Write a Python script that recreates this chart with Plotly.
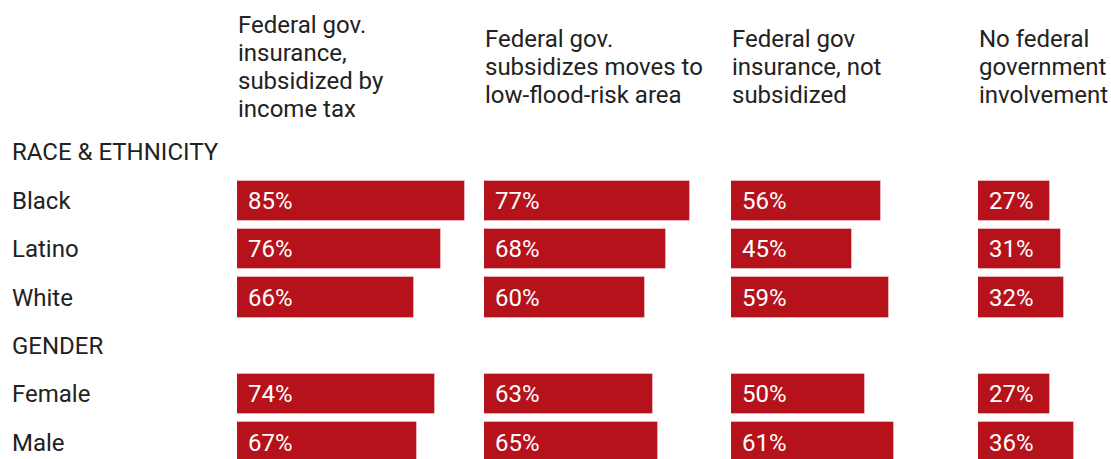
import plotly.graph_objects as go

# Survey: support for flood-policy options, by group (percent)
columns = [
    ["Federal gov.", "insurance,", "subsidized by", "income tax"],
    ["Federal gov.", "subsidizes moves to", "low-flood-risk area"],
    ["Federal gov", "insurance, not", "subsidized"],
    ["No federal", "government", "involvement"],
]
row_labels = ["RACE & ETHNICITY", "Black", "Latino", "White", "GENDER", "Female", "Male"]
group_rows = [1, 2, 3, 5, 6]  # rows that carry bars (headers at 0 and 4)

subsidized_tax = [85, 76, 66, 74, 67]
subsidized_moves = [77, 68, 60, 63, 65]
insurance_unsubsidized = [56, 45, 59, 50, 61]
no_involvement = [27, 31, 32, 27, 36]
series = [subsidized_tax, subsidized_moves, insurance_unsubsidized, no_involvement]

W, H = 1111, 459
BAR = "#b5121b"
INK = "#222222"
FONT = "Roboto"
TEXT_SIZE = 24
VALUE_SIZE = 24

col_start_px = [237, 484, 731, 978]
px_per_pct = 2.68
row0_px, row_pitch = 152.45, 48.35
head_mid_px, head_pitch = 67, 27.9

fig = go.Figure()
annotations = []

for k, vals in enumerate(series):
    s = col_start_px[k]
    e = min(s + 240, W)
    ax = "x" if k == 0 else f"x{k+1}"
    fig.add_trace(go.Bar(
        x=vals, y=group_rows, orientation="h",
        width=0.834,
        marker=dict(color=BAR, line=dict(color="rgba(255,255,255,0.35)", width=1)),
        xaxis=ax, yaxis="y", hoverinfo="skip", showlegend=False,
    ))
    layout_key = "xaxis" if k == 0 else f"xaxis{k+1}"
    fig.update_layout({layout_key: dict(
        domain=[s / W, e / W], range=[0, (e - s) / px_per_pct],
        visible=False, fixedrange=True, anchor="y",
    )})
    for r, v in zip(group_rows, vals):
        annotations.append(dict(
            x=0, y=r, xref=ax, yref="y", text=f"{v}%",
            xanchor="left", yanchor="middle", xshift=9, showarrow=False,
            font=dict(family=FONT, size=VALUE_SIZE, color="white"),
        ))
    # column heading, lines centred as a block
    lines = columns[k]
    n = len(lines)
    for j, line in enumerate(lines):
        ypx = head_mid_px + (j - (n - 1) / 2) * head_pitch
        annotations.append(dict(
            x=0, y=1 - ypx / H, xref=f"{ax} domain", yref="paper", text=line,
            xanchor="left", yanchor="middle", align="left", showarrow=False,
            xshift=-1,
            font=dict(family=FONT, size=TEXT_SIZE, color=INK),
        ))

for i, lab in enumerate(row_labels):
    annotations.append(dict(
        x=10 / W, y=i, xref="paper", yref="y", text=lab,
        xanchor="left", yanchor="middle", showarrow=False,
        font=dict(family=FONT, size=TEXT_SIZE, color=INK),
    ))

y_top = -row0_px / row_pitch
y_bot = (H - row0_px) / row_pitch
fig.update_layout(
    width=W, height=H,
    margin=dict(l=0, r=0, t=0, b=0),
    paper_bgcolor="white", plot_bgcolor="white",
    yaxis=dict(range=[y_bot, y_top], visible=False, fixedrange=True, domain=[0, 1]),
    annotations=annotations,
    bargap=0,
)

fig.write_html("out.html", config={"displayModeBar": False})
